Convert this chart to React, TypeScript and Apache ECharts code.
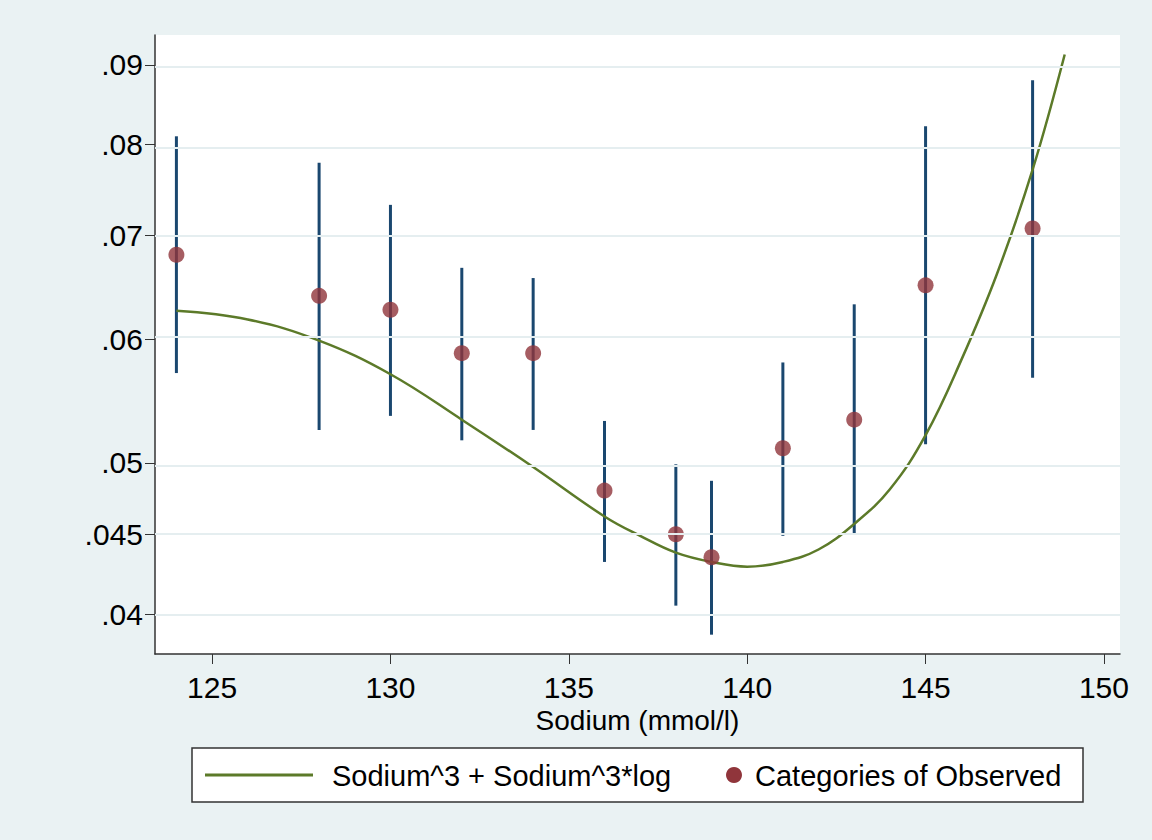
import React, { useEffect, useRef } from "react";
import * as echarts from "echarts";

// observed category points: sodium, estimate, lower CI, upper CI
const sodium = [124, 128, 130, 132, 134, 136, 138, 139, 141, 143, 145, 148];
const observed = [0.068, 0.064, 0.0627, 0.0588, 0.0588, 0.048, 0.045, 0.0435, 0.0511, 0.0533, 0.065, 0.0707];
const lower = [0.0571, 0.0525, 0.0536, 0.0517, 0.0525, 0.0432, 0.0405, 0.0388, 0.0449, 0.045, 0.0514, 0.0567];
const upper = [0.081, 0.0779, 0.0732, 0.0667, 0.0657, 0.0532, 0.0499, 0.0487, 0.058, 0.0632, 0.0822, 0.088];

// fitted curve
const fitX = [124, 126, 128, 130, 132, 134, 136, 137, 138, 139, 140, 141, 142, 143, 144, 145, 146, 147, 148, 148.9];
const fitY = [0.0626, 0.0618, 0.0599, 0.057, 0.0533, 0.0497, 0.0462, 0.0449, 0.0438, 0.0432, 0.0429, 0.0432, 0.044, 0.0457, 0.0481, 0.0521, 0.0582, 0.0661, 0.0771, 0.0914];

const yTicks = [0.04, 0.045, 0.05, 0.06, 0.07, 0.08, 0.09];
const xTicks = [125, 130, 135, 140, 145, 150];

const L = Math.log;
const fmt = (v: number) => String(v).replace(/^0/, "");
const FONT = "Liberation Sans, Arial, sans-serif";
const GREEN = "#5c7a29";
const RED = "#90353b";

export default function App() {
  const ref = useRef<HTMLDivElement>(null);

  useEffect(() => {
    document.body.style.margin = "0";
    const chart = echarts.init(ref.current!, null, { renderer: "svg" });
    chart.setOption({
      animation: false,
      backgroundColor: "#eaf2f3",
      grid: { left: 155, right: 32, top: 35, bottom: 186, backgroundColor: "#fff", show: true, borderWidth: 0 },
      xAxis: {
        type: "value",
        min: 123.4,
        max: 150.45,
        interval: 5,
        name: "Sodium (mmol/l)",
        nameLocation: "middle",
        nameGap: 50,
        nameTextStyle: { fontSize: 28, color: "#000", fontFamily: FONT },
        axisLine: { show: true, onZero: false, lineStyle: { color: "#333", width: 1.5 } },
        axisTick: { show: true, length: 10, lineStyle: { color: "#333" }, customValues: xTicks },
        axisLabel: { fontSize: 30, color: "#000", fontFamily: FONT, margin: 18, customValues: xTicks },
        splitLine: { show: false },
      },
      yAxis: {
        type: "value",
        min: L(0.04) - 40 / 678,
        max: L(0.09) + 30 / 678,
        axisLine: { show: true, onZero: false, lineStyle: { color: "#333", width: 1.5 } },
        axisTick: { show: true, length: 10, lineStyle: { color: "#333" }, customValues: yTicks.map(L) },
        axisLabel: {
          fontSize: 30,
          color: "#000",
          fontFamily: FONT,
          margin: 12,
          customValues: yTicks.map(L),
          formatter: (v: number) => {
            const t = yTicks.find((y) => Math.abs(L(y) - v) < 1e-6);
            return t ? fmt(t) : "";
          },
        },
        splitLine: { show: false },
      },
      graphic: [
        {
          type: "rect",
          shape: { x: 192, y: 748, width: 891, height: 54 },
          style: { fill: "#fff", stroke: "#333", lineWidth: 1.5 },
        },
        { type: "line", shape: { x1: 205, y1: 775, x2: 313, y2: 775 }, style: { stroke: GREEN, lineWidth: 3 } },
        {
          type: "text",
          x: 332,
          y: 776,
          style: { text: "Sodium^3 + Sodium^3*log", fontSize: 29, fontFamily: FONT, fill: "#000", verticalAlign: "middle" },
        },
        { type: "circle", shape: { cx: 734, cy: 775, r: 8 }, style: { fill: RED } },
        {
          type: "text",
          x: 755,
          y: 776,
          style: { text: "Categories of Observed", fontSize: 29, fontFamily: FONT, fill: "#000", verticalAlign: "middle" },
        },
      ],
      series: [
        {
          name: "grid",
          type: "line",
          data: [],
          silent: true,
          markLine: {
            silent: true,
            symbol: "none",
            label: { show: false },
            lineStyle: { color: "#e5eef0", width: 2, type: "solid" },
            data: yTicks.map((y) => ({ yAxis: L(y) })),
          },
        },
        {
          name: "Sodium^3 + Sodium^3*log",
          type: "line",
          smooth: 0.4,
          showSymbol: false,
          lineStyle: { color: GREEN, width: 2.5 },
          itemStyle: { color: GREEN },
          data: fitX.map((x, i) => [x, L(fitY[i])]),
        },
        {
          name: "ci",
          type: "custom",
          renderItem: (params: any, api: any) => {
            const x = api.value(0);
            const a = api.coord([x, api.value(1)]);
            const b = api.coord([x, api.value(2)]);
            return {
              type: "line",
              shape: { x1: a[0], y1: a[1], x2: b[0], y2: b[1] },
              style: { stroke: "#1a476f", lineWidth: 3 },
            };
          },
          data: sodium.map((x, i) => [x, L(lower[i]), L(upper[i])]),
          z: 3,
        },
        {
          name: "Categories of Observed",
          type: "scatter",
          symbolSize: 16,
          itemStyle: { color: RED },
          data: sodium.map((x, i) => [x, L(observed[i])]),
          z: 4,
        },
      ],
    });
    return () => chart.dispose();
  }, []);

  return <div ref={ref} style={{ width: 1152, height: 840 }} />;
}
